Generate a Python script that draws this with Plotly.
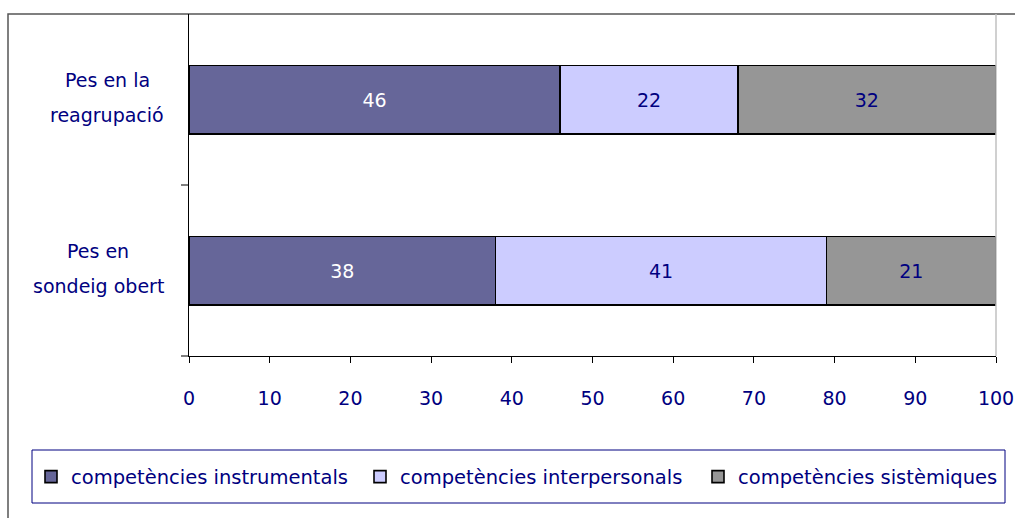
import plotly.graph_objects as go

categories = ["Pes en<br>sondeig obert", "Pes en la<br>reagrupació"]
series_names = ["competències instrumentals", "competències interpersonals", "competències sistèmiques"]
instrumentals = [38, 46]
interpersonals = [41, 22]
sistemiques = [21, 32]
colors = ["#666699", "#CCCCFF", "#969696"]
text_colors = ["white", "#000080", "#000080"]
x_ticks = [0, 10, 20, 30, 40, 50, 60, 70, 80, 90, 100]

FONT = "DejaVu Sans"
NAVY = "#000080"
FS = 19
LFS = 19.5
W, H = 1015, 518
L, R, T, B = 189, 19, 14, 162
PW, PH = W - L - R, H - T - B

def px_x(px):
    return (px - L) / PW

def px_y(py):
    return (H - B - py) / PH

legend_ids = ["legend", "legend2", "legend3"]
legend_left_px = [31, 360, 698]

fig = go.Figure()
for name, vals, col, tc, lg in zip(series_names, [instrumentals, interpersonals, sistemiques],
                                   colors, text_colors, legend_ids):
    fig.add_trace(go.Bar(
        y=categories, x=vals, name=name, orientation="h", legend=lg,
        marker=dict(color=col, line=dict(color="black", width=1.6)),
        text=[str(v) for v in vals], textposition="inside", insidetextanchor="middle",
        textfont=dict(color=tc, size=FS, family=FONT),
        hoverinfo="skip",
    ))

# category labels as centred two-line text
annotations = []
label_centres = [98, 107]
for cat, cx in zip(categories, label_centres):
    lines = cat.split("<br>")
    for i, line in enumerate(lines):
        annotations.append(dict(
            x=px_x(cx), xref="paper", y=cat, yref="y", yshift=19.5 - 35 * i,
            text=line, showarrow=False, xanchor="center", yanchor="middle",
            font=dict(size=FS, color=NAVY, family=FONT)))

legend_layouts = {}
for lg, lx in zip(legend_ids, legend_left_px):
    legend_layouts[lg] = dict(
        orientation="h", xref="container", yref="container",
        x=lx / W, xanchor="left", y=1 - 477 / H, yanchor="middle",
        font=dict(size=LFS, color=NAVY, family=FONT),
        bgcolor="rgba(0,0,0,0)", itemclick=False, itemdoubleclick=False)

fig.update_layout(
    barmode="stack", bargap=0.6,
    width=W, height=H,
    margin=dict(l=L, r=R, t=T, b=B, autoexpand=False),
    paper_bgcolor="white", plot_bgcolor="white",
    font=dict(family=FONT, color=NAVY, size=FS),
    showlegend=True,
    xaxis=dict(range=[0, 100], tickvals=x_ticks, ticks="outside", ticklen=6, tickcolor="black",
               showgrid=False, zeroline=False, showline=True, linecolor="black", linewidth=1,
               tickfont=dict(size=FS, color=NAVY, family=FONT), ticklabelstandoff=19, fixedrange=True),
    yaxis=dict(showgrid=False, zeroline=False, showline=True, linecolor="black", linewidth=1,
               ticks="", showticklabels=False, fixedrange=True),
    annotations=annotations,
    shapes=[
        # outer chart frame
        dict(type="rect", xref="paper", yref="paper", x0=px_x(8), x1=px_x(1030), y0=px_y(540), y1=px_y(14),
             line=dict(color="#555555", width=1.5), fillcolor="rgba(0,0,0,0)", layer="below"),
        # right plot border (light grey)
        dict(type="line", xref="paper", yref="paper", x0=1, x1=1, y0=0, y1=1,
             line=dict(color="#C0C0C0", width=1.5)),
        # category separator ticks
        dict(type="line", xref="paper", yref="paper", x0=px_x(181), x1=0, y0=0.5, y1=0.5,
             line=dict(color="black", width=1)),
        dict(type="line", xref="paper", yref="paper", x0=px_x(181), x1=0, y0=0, y1=0,
             line=dict(color="black", width=1)),
        # legend box
        dict(type="rect", xref="paper", yref="paper", x0=px_x(32), x1=px_x(1005),
             y0=px_y(503), y1=px_y(450),
             line=dict(color="#000080", width=1), fillcolor="rgba(0,0,0,0)"),
    ],
    **legend_layouts,
)

fig.write_html("out.html")
